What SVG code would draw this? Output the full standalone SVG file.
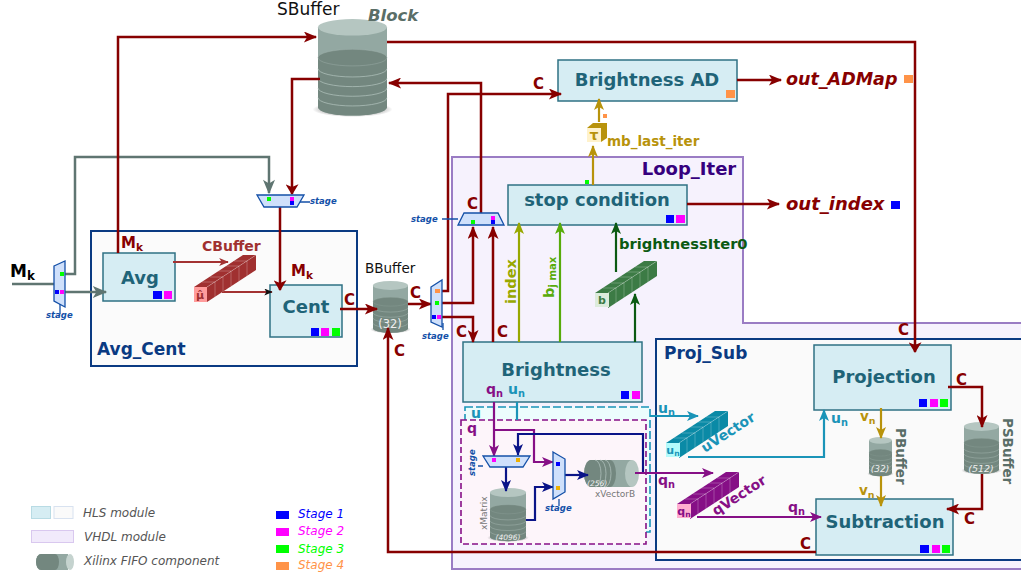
<svg xmlns="http://www.w3.org/2000/svg" xmlns:xlink="http://www.w3.org/1999/xlink" width="1021" height="578" viewBox="0 0 1021 578">
<style>
text{font-family:"DejaVu Sans",sans-serif}
.node{fill:#d6edf3;stroke:#2f7184;stroke-width:1.5}
.nt{font-weight:bold;fill:#1f6478;text-anchor:middle}
.l{fill:none;stroke-width:2.2}
.r{stroke:#870000;stroke-width:2.5}.g{stroke:#5f7571;stroke-width:2.5}.p{stroke:#860f86}.t{stroke:#1a94b8}.n{stroke:#0a1488}.y{stroke:#b8930c}
.rt{fill:#870000;font-weight:bold;font-size:15px}
.pt{fill:#860f86;font-weight:bold;font-size:14px}
.tt{fill:#1a94b8;font-weight:bold;font-size:14px}
.yt{fill:#b8930c;font-weight:bold;font-size:13.500px}
.mux{fill:#cfe0fb;stroke:#1450a8;stroke-width:1.3}
.st{fill:#1450a8;font-weight:bold;font-style:italic;font-size:8.500px}
.out{fill:#870000;font-weight:bold;font-style:italic;font-size:17.500px}
.leg{fill:#555;font-style:italic;font-size:12px}
.sub{font-size:70%}
.b{fill:#0000ff}.m{fill:#ff00ff}.gr{fill:#00ff00}.o{fill:#ff9348}.a{fill:#eeb000}
.blk{stroke:#0a3a82;stroke-width:2}
.lbl{font-weight:bold;fill:#0a3a82;font-size:17px}
</style>
<defs>
<marker id="ar" viewBox="0 0 12 10" refX="11" refY="5" markerUnits="userSpaceOnUse" markerWidth="15" markerHeight="11" orient="auto"><path d="M0,0L12,5L0,10L3,5z" fill="#870000"/></marker>
<marker id="arb" viewBox="0 0 10 12" refX="9" refY="6" markerUnits="userSpaceOnUse" markerWidth="18" markerHeight="13" orient="auto"><path d="M0,0L10,6L0,12L2.500,6z" fill="#870000"/></marker>
<marker id="al" viewBox="0 0 12 10" refX="11" refY="5" markerUnits="userSpaceOnUse" markerWidth="13" markerHeight="8" orient="auto"><path d="M0,0L12,5L0,10L3,5z" fill="#a33232"/></marker>
<marker id="ak" viewBox="0 0 12 10" refX="11" refY="5" markerUnits="userSpaceOnUse" markerWidth="11" markerHeight="7" orient="auto"><path d="M0,0L12,5L0,10L3,5z" fill="#111"/></marker>
<marker id="ag" viewBox="0 0 12 10" refX="11" refY="5" markerUnits="userSpaceOnUse" markerWidth="17" markerHeight="12" orient="auto"><path d="M0,0L12,5L0,10L3,5z" fill="#5f7571"/></marker>
<marker id="ap" viewBox="0 0 12 10" refX="11" refY="5" markerUnits="userSpaceOnUse" markerWidth="15" markerHeight="10" orient="auto"><path d="M0,0L12,5L0,10L3,5z" fill="#860f86"/></marker>
<marker id="at" viewBox="0 0 12 10" refX="11" refY="5" markerUnits="userSpaceOnUse" markerWidth="15" markerHeight="10" orient="auto"><path d="M0,0L12,5L0,10L3,5z" fill="#1a94b8"/></marker>
<marker id="an" viewBox="0 0 12 10" refX="11" refY="5" markerUnits="userSpaceOnUse" markerWidth="15" markerHeight="10" orient="auto"><path d="M0,0L12,5L0,10L3,5z" fill="#0a1488"/></marker>
<marker id="ay" viewBox="0 0 12 10" refX="11" refY="5" markerUnits="userSpaceOnUse" markerWidth="15" markerHeight="10" orient="auto"><path d="M0,0L12,5L0,10L3,5z" fill="#b8930c"/></marker>
<marker id="ao" viewBox="0 0 12 10" refX="11" refY="5" markerUnits="userSpaceOnUse" markerWidth="15" markerHeight="10" orient="auto"><path d="M0,0L12,5L0,10L3,5z" fill="#98a800"/></marker>
<marker id="ai" viewBox="0 0 12 10" refX="11" refY="5" markerUnits="userSpaceOnUse" markerWidth="15" markerHeight="10" orient="auto"><path d="M0,0L12,5L0,10L3,5z" fill="#58ab0a"/></marker>
<marker id="ad" viewBox="0 0 12 10" refX="11" refY="5" markerUnits="userSpaceOnUse" markerWidth="15" markerHeight="10" orient="auto"><path d="M0,0L12,5L0,10L3,5z" fill="#0b5a12"/></marker>
<radialGradient id="sh"><stop offset="0.6" stop-color="#555" stop-opacity=".55"/><stop offset="1" stop-color="#555" stop-opacity="0"/></radialGradient>
<g id="cyl">
<ellipse cx="50" cy="131" rx="58" ry="11" fill="url(#sh)"/>
<path d="M0,12V128A50,12 0 0 0 100,128V12z" fill="#93a8a2"/>
<path d="M0,56V128A50,12 0 0 0 100,128V56z" fill="#73877f"/>
<ellipse cx="50" cy="12" rx="50" ry="12" fill="#b5c6c1"/>
<ellipse cx="50" cy="56" rx="50" ry="12" fill="#73877f" stroke="#a4b6b1" stroke-width=".6"/>
<path d="M0,72A50,12 0 0 0 100,72M0,86A50,12 0 0 0 100,86M0,100A50,12 0 0 0 100,100M0,114A50,12 0 0 0 100,114" fill="none" stroke="#b5c6c1" stroke-width="1"/>
</g>
<g id="reg">
<polygon points="0,0 13,0 62,-32 49,-32" fill="currentColor"/>
<polygon points="13,0 62,-32 62,-17 13,15" fill="currentColor"/>
<path d="M13,0L62,-32M21,-5V10M29,-10V5M37,-16V-1M45,-21V-6M53,-26V-11M8,-5L21,-5M16,-10L29,-10M24,-16L37,-16M32,-21L45,-21M40,-26L53,-26" fill="none" stroke="#fff" stroke-opacity=".3" stroke-width=".8"/>
</g>
</defs>
<rect width="1021" height="578" fill="#fff"/>

<g id="Loop_Iter"><path d="M452,157H743V323H1023V569H452z" fill="#f6f2fd" stroke="#9a7cc4" stroke-width="2"/><text x="689" y="175" font-size="18" font-weight="bold" fill="#36007e" text-anchor="middle">Loop_Iter</text></g>
<g id="Proj_Sub"><rect x="656" y="339" width="370" height="221" fill="#fafafa" class="blk"/><text x="664" y="359" class="lbl">Proj_Sub</text></g>
<g id="Avg_Cent"><rect x="91" y="231" width="266" height="135" fill="#fbfbfb" class="blk"/><text x="97" y="355" class="lbl">Avg_Cent</text></g>
<g id="u_region"><rect x="465" y="407" width="185" height="125" fill="#ecfdfd" stroke="#1a94b8" stroke-width="1.600" stroke-dasharray="8 3"/><text x="471" y="418" font-size="14" font-weight="bold" fill="#1a94b8">u</text></g>
<g id="q_region"><rect x="461" y="420" width="185" height="124" fill="#fdf5fa" stroke="#860f86" stroke-width="1.600" stroke-dasharray="6 3"/><text x="467" y="433" font-size="14" font-weight="bold" fill="#860f86">q</text></g>

<g id="SBuffer"><use href="#cyl" transform="translate(318,19) scale(.69,.69)"/><text x="277" y="15" font-size="17" fill="#111">SBuffer</text><text x="368" y="21" font-size="16.500" font-weight="bold" font-style="italic" fill="#5a6e68">Block</text></g>
<g id="BBuffer"><use href="#cyl" transform="translate(373,281) scale(.35,.37)"/><text x="365" y="273" font-size="13.500" fill="#111">BBuffer</text><text x="390" y="328" font-size="11.500" fill="#eee" text-anchor="middle">(32)</text></g>
<g id="PBuffer"><use href="#cyl" transform="translate(869,437) scale(.23,.28)"/><text x="880" y="472" font-size="9" font-style="italic" fill="#eee" text-anchor="middle">(32)</text><text transform="translate(896,428) rotate(90)" font-size="13.500" font-weight="bold" fill="#5a6e68">PBuffer</text></g>
<g id="PSBuffer"><use href="#cyl" transform="translate(964,422) scale(.35,.37)"/><text x="981" y="472" font-size="9.500" font-style="italic" fill="#eee" text-anchor="middle">(512)</text><text transform="translate(1003,418) rotate(90)" font-size="13.500" font-weight="bold" fill="#5a6e68">PSBuffer</text></g>
<g id="xMatrix"><use href="#cyl" transform="translate(490,488) scale(.36,.38)"/><text x="508" y="540" font-size="7.500" font-style="italic" fill="#eee" text-anchor="middle">(4096)</text><text transform="translate(487,530) rotate(-90)" font-size="9" fill="#777">xMatrix</text></g>
<g id="xVectorB">
<path d="M591,460H632V487H591A7,13.500 0 0 1 591,460z" fill="#93a8a2"/>
<path d="M591,460H610A6,13.500 0 0 1 610,487H591A7,13.500 0 0 1 591,460z" fill="#73877f"/>
<path d="M595,460A6,13.500 0 0 1 595,487M600,460A6,13.500 0 0 1 600,487M605,460A6,13.500 0 0 1 605,487" fill="none" stroke="#b5c6c1" stroke-width=".7"/>
<ellipse cx="632" cy="473.500" rx="7" ry="13.500" fill="#b5c6c1"/>
<text x="587" y="486" font-size="7.500" font-style="italic" fill="#eee">(256)</text><text x="595" y="497" font-size="9" fill="#777">xVectorB</text></g>

<g id="Avg"><rect x="103" y="253" width="72" height="48" class="node"/><text x="140" y="284" font-size="18" class="nt">Avg</text><rect x="153" y="291" width="9" height="8" class="b"/><rect x="164" y="291" width="8" height="8" class="m"/></g>
<g id="Cent"><rect x="270" y="285" width="72" height="52" class="node"/><text x="306" y="313" font-size="18" class="nt">Cent</text><rect x="311" y="328" width="8" height="8" class="b"/><rect x="321" y="328" width="8" height="8" class="m"/><rect x="332" y="328" width="8" height="8" class="gr"/></g>
<g id="BrightnessAD"><rect x="558" y="60" width="179" height="41" class="node"/><text x="647" y="86" font-size="18" class="nt">Brightness AD</text><rect x="726" y="90" width="9" height="8" class="o"/></g>
<g id="stopCondition"><rect x="508" y="185" width="179" height="40" class="node"/><text x="597" y="206" font-size="18" class="nt">stop condition</text><rect x="666" y="215" width="8" height="8" class="b"/><rect x="676" y="215" width="9" height="8" class="m"/></g>
<g id="Brightness"><rect x="463" y="342" width="179" height="60" class="node"/><text x="556" y="376" font-size="18" class="nt">Brightness</text><rect x="621" y="391" width="8" height="8" class="b"/><rect x="632" y="391" width="8" height="8" class="m"/></g>
<g id="Projection"><rect x="814" y="345" width="137" height="65" class="node"/><text x="884" y="383" font-size="18" class="nt">Projection</text><rect x="919" y="399" width="8" height="8" class="b"/><rect x="930" y="399" width="8" height="8" class="m"/><rect x="940" y="399" width="8" height="8" class="gr"/></g>
<g id="Subtraction"><rect x="816" y="499" width="137" height="56" class="node"/><text x="885" y="528" font-size="18" class="nt">Subtraction</text><rect x="920" y="545" width="9" height="8" class="b"/><rect x="932" y="545" width="8" height="8" class="m"/><rect x="942" y="545" width="8" height="8" class="gr"/></g>

<g id="connectors">
<path class="l g" stroke-width="3" d="M12,284H55"/>
<path class="l g" d="M65,274H75V157H269V193" marker-end="url(#ag)"/>
<path class="l g" d="M65,292H106" marker-end="url(#ag)"/>
<path class="l r" d="M118,253V37H316" marker-end="url(#ar)"/>
<path class="l r" d="M320,79H292V194" marker-end="url(#arb)"/>
<path class="l r" d="M280,207V290" marker-end="url(#arb)"/>
<path class="l" stroke="#a33232" stroke-width="1.500" d="M173,262H228" marker-end="url(#al)"/>
<path class="l" stroke="#a33232" stroke-width="1.500" d="M222,292H272" marker-end="url(#ak)"/>
<path class="l r" d="M340,309H377" marker-end="url(#ar)"/>
<path class="l r" d="M408,304H431" marker-end="url(#ar)"/>
<path class="l r" d="M442,291H448V94H561" marker-end="url(#ar)"/>
<path class="l r" d="M442,303H473V227" marker-end="url(#ar)"/>
<path class="l r" d="M442,317H473V342" marker-end="url(#ar)"/>
<path class="l r" d="M493,342V227" marker-end="url(#ar)"/>
<path class="l r" d="M481,214V83H389" marker-end="url(#ar)"/>
<path class="l r" d="M387,42H915V352" marker-end="url(#arb)"/>
<path class="l r" d="M816,552H388V328" marker-end="url(#ar)"/>
<path class="l r" d="M687,204H779" marker-end="url(#ar)"/>
<path class="l r" d="M737,80H781" marker-end="url(#ar)"/>
<path class="l y" d="M593,185V146" marker-end="url(#ay)"/>
<path class="l y" d="M599,122V99" marker-end="url(#ay)"/>
<path class="l" stroke="#98a800" d="M519,342V223" marker-end="url(#ao)"/>
<path class="l" stroke="#58ab0a" d="M560,342V223" marker-end="url(#ai)"/>
<path class="l" stroke="#0b5a12" d="M616,272V223" marker-end="url(#ad)"/>
<path class="l" stroke="#0b5a12" d="M635,342V294" marker-end="url(#ad)"/>
<path class="l p" d="M494,402V456" marker-end="url(#ap)"/>
<path class="l p" d="M494,430H534V462H553" marker-end="url(#ap)"/>
<path class="l t" d="M517,402V420"/>
<path class="l t" d="M650,416H698" marker-end="url(#at)"/>
<path class="l t" d="M688,457H824V410" marker-end="url(#at)"/>
<path class="l n" d="M506,467V491" marker-end="url(#an)"/>
<path class="l n" d="M526,520H535V487H553" marker-end="url(#an)"/>
<path class="l n" d="M565,475H588" marker-end="url(#an)"/>
<path class="l n" d="M643,473V434H518V455" marker-end="url(#an)"/>
<path class="l p" d="M635,473H713" marker-end="url(#ap)"/>
<path class="l p" d="M697,517H821" marker-end="url(#ap)"/>
<path class="l y" d="M881,408V438" marker-end="url(#ay)"/>
<path class="l y" d="M881,476V506" marker-end="url(#ay)"/>
<path class="l r" d="M948,387H982V427" marker-end="url(#ar)"/>
<path class="l r" d="M982,474V509H947" marker-end="url(#ar)"/>
<path stroke="#1450a8" stroke-width="1.300" d="M300,202H310M443,323V330M442,219H458M478,466H483M559,499V506" fill="none"/>
</g>

<g id="mux_input"><polygon points="54,266 65,261 65,307 54,301" class="mux"/><rect x="60" y="272" width="4" height="4" class="gr"/><rect x="55" y="290" width="4" height="4" class="b"/><rect x="60" y="290" width="4" height="4" class="m"/><path d="M60,304V314" stroke="#1450a8" stroke-width="1.300"/><text x="46" y="318" class="st">stage</text></g>
<g id="mux_top"><polygon points="257,195 304,195 297,207 264,207" class="mux"/><rect x="267" y="197" width="4" height="4" class="gr"/><rect x="290" y="197" width="4" height="4" class="m"/><rect x="290" y="201" width="4" height="4" class="b"/><text x="310" y="204" class="st">stage</text></g>
<g id="mux_bbuffer"><polygon points="431,287 442,280 442,327 431,322" class="mux"/><rect x="435" y="289" width="5" height="4" class="o"/><rect x="435" y="301" width="4" height="4" class="gr"/><rect x="432" y="315" width="4" height="4" class="b"/><rect x="437" y="315" width="4" height="4" class="m"/><text x="422" y="339" class="st">stage</text></g>
<g id="mux_loop"><polygon points="458,225 504,225 498,213 464,213" class="mux"/><rect x="471" y="220" width="4" height="4" class="gr"/><rect x="491" y="216" width="4" height="4" class="m"/><rect x="491" y="220" width="4" height="4" class="b"/><text x="411" y="222" class="st">stage</text></g>
<g id="mux_q_top"><polygon points="483,456 530,456 523,467 490,467" class="mux"/><rect x="492" y="458" width="4" height="4" class="m"/><rect x="516" y="458" width="4" height="4" class="a"/><text transform="translate(475,476) rotate(-90)" class="st">stage</text></g>
<g id="mux_q_right"><polygon points="553,452 565,459 565,492 553,499" class="mux"/><rect x="556" y="462" width="4" height="4" class="b"/><rect x="556" y="486" width="4" height="4" class="a"/><text x="545" y="511" class="st">stage</text></g>

<g id="CBuffer"><use href="#reg" transform="translate(194,287)" color="#a03030"/><rect x="194" y="287" width="13" height="15" fill="#ff9c9c"/><text x="200" y="299" font-size="11" font-weight="bold" fill="#a03030" text-anchor="middle">μ̂</text><text x="202" y="251" font-size="14" font-weight="bold" fill="#a03030">CBuffer</text></g>
<g id="uVector"><use href="#reg" transform="translate(666,443)" color="#0a8aa6"/><rect x="666" y="443" width="14" height="14" fill="#b3fbfb"/><text x="673" y="454" font-size="11" font-weight="bold" fill="#1a94b8" text-anchor="middle">u<tspan class="sub" dy="2">n</tspan></text><text transform="translate(705,453) rotate(-33)" font-size="14" font-weight="bold" fill="#1a94b8">uVector</text></g>
<g id="qVector"><use href="#reg" transform="translate(677,504)" color="#860f86"/><rect x="677" y="504" width="14" height="14" fill="#ffaed0"/><text x="684" y="515" font-size="11" font-weight="bold" fill="#860f86" text-anchor="middle">q<tspan class="sub" dy="2">n</tspan></text><text transform="translate(716,516) rotate(-33)" font-size="14" font-weight="bold" fill="#860f86">qVector</text></g>
<g id="bReg"><use href="#reg" transform="translate(595,293)" color="#3c7b45"/><rect x="595" y="293" width="14" height="14" fill="#dcebdc"/><text x="602" y="304" font-size="11" font-weight="bold" fill="#3c7b45" text-anchor="middle">b</text></g>
<g id="mb_last_iter"><polygon points="587,128 593,123 607,123 607,138 601,142 587,142" fill="#b8930c"/><rect x="587" y="128" width="14" height="14" fill="#fff2cc"/><text x="594" y="140" font-size="14" font-weight="bold" fill="#b8930c" text-anchor="middle">τ</text><text x="607" y="146" class="yt">mb_last_iter</text><rect x="603" y="114" width="4" height="4" class="o"/><rect x="585" y="180" width="4" height="4" class="gr"/></g>

<g id="labels">
<text x="10" y="277" font-size="17" font-weight="bold" fill="#000">M<tspan class="sub" dy="3">k</tspan></text>
<text x="121" y="248" class="rt">M<tspan class="sub" dy="3">k</tspan></text>
<text x="291" y="276" class="rt">M<tspan class="sub" dy="3">k</tspan></text>
<text x="344" y="305" class="rt">C</text><text x="410" y="298" class="rt">C</text><text x="394" y="356" class="rt">C</text>
<text x="456" y="337" class="rt">C</text><text x="497" y="337" class="rt">C</text><text x="467" y="209" class="rt">C</text>
<text x="533" y="89" class="rt">C</text><text x="898" y="335" class="rt">C</text><text x="956" y="385" class="rt">C</text><text x="964" y="524" class="rt">C</text><text x="800" y="549" class="rt">C</text>
<text x="786" y="85" class="out">out_ADMap</text><rect x="904" y="75" width="9" height="8" class="o"/>
<text x="786" y="210" class="out" style="font-size:18px">out_index</text><rect x="891" y="201" width="9" height="8" class="b"/>
<text x="619" y="249" font-size="14.700" font-weight="bold" fill="#0b5a12">brightnessIter0</text>
<text transform="translate(516,304) rotate(-90)" font-size="14.500" font-weight="bold" fill="#98a800">index</text>
<text transform="translate(554,298) rotate(-90)" font-size="14.500" font-weight="bold" fill="#58ab0a">b<tspan class="sub" dy="2">j max</tspan></text>
<text x="486" y="394" class="pt">q<tspan class="sub" dy="3">n</tspan></text>
<text x="508" y="394" class="tt">u<tspan class="sub" dy="3">n</tspan></text>
<text x="658" y="413" class="tt">u<tspan class="sub" dy="3">n</tspan></text>
<text x="831" y="423" class="tt">u<tspan class="sub" dy="3">n</tspan></text>
<text x="658" y="485" class="pt">q<tspan class="sub" dy="3">n</tspan></text>
<text x="788" y="512" class="pt">q<tspan class="sub" dy="3">n</tspan></text>
<text x="860" y="421" class="yt">v<tspan class="sub" dy="3">n</tspan></text>
<text x="859" y="495" class="yt">v<tspan class="sub" dy="3">n</tspan></text>
</g>

<g id="legend">
<rect x="31.500" y="506.500" width="19" height="12" fill="#d6edf3" stroke="#b8dbe4"/><rect x="54" y="506.500" width="19" height="12" fill="#fafafa" stroke="#d8e2f0"/>
<text x="83" y="517" class="leg">HLS module</text>
<rect x="31.500" y="530.500" width="42" height="12" fill="#f1eafb" stroke="#d9c8ef"/>
<text x="84" y="541" class="leg">VHDL module</text>
<path d="M41,554H68V570H41A5,8 0 0 1 41,554z" fill="#93a8a2"/><path d="M41,554H55A4,8 0 0 1 55,570H41A5,8 0 0 1 41,554z" fill="#73877f"/><ellipse cx="70" cy="562" rx="4" ry="8" fill="#c5d3cf"/>
<text x="84" y="565" class="leg">Xilinx FIFO component</text>
<rect x="276" y="511" width="13" height="8" class="b"/><text x="298" y="518" font-size="12" font-style="italic" fill="#0000ff">Stage 1</text>
<rect x="276" y="528" width="13" height="8" class="m"/><text x="298" y="535" font-size="12" font-style="italic" fill="#ff00ff">Stage 2</text>
<rect x="276" y="545" width="13" height="8" class="gr"/><text x="298" y="553" font-size="12" font-style="italic" fill="#00ff00">Stage 3</text>
<rect x="276" y="562" width="13" height="8" class="o"/><text x="298" y="569" font-size="12" font-style="italic" fill="#ff9348">Stage 4</text>
</g>
</svg>
